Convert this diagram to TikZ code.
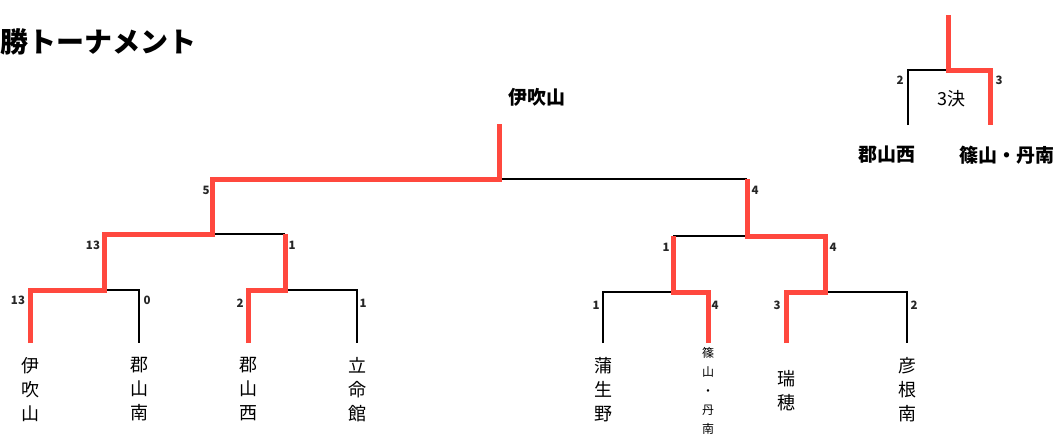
\documentclass[tikz,border=0pt]{standalone}
\usepackage{fontspec}
\newfontfamily\jp{Noto Sans CJK JP}
\usepackage{tikz}
\tikzset{>=latex}
\definecolor{winred}{RGB}{255,72,62}

\begin{document}
\begin{tikzpicture}[x=1pt, y=-1pt,
    win/.style={draw=winred, line width=5pt},
    lose/.style={draw=black, line width=1.4pt},
    score/.style={font=\jp\bfseries\fontsize{11.5}{11.5}\selectfont, text=black!85, inner sep=0pt},
    team/.style={font=\jp\fontsize{18}{24}\selectfont, align=center, inner sep=0pt, anchor=north},
    small team/.style={font=\jp\fontsize{12}{19}\selectfont, align=center, inner sep=0pt, anchor=north},
    head/.style={font=\jp\bfseries\fontsize{19}{19}\selectfont, inner sep=0pt}]
  \useasboundingbox (0,0) rectangle (1056,439);

  % title
  \node[font=\jp\bfseries\fontsize{28}{28}\selectfont, anchor=west, inner sep=0pt] (title) at (0,42) {勝トーナメント};

  % leaves
  \coordinate (b1) at (30,343);  \coordinate (t1) at (30,290);
  \coordinate (b2) at (139,343); \coordinate (t2) at (139,290);
  \coordinate (b3) at (248,343); \coordinate (t3) at (248,290);
  \coordinate (b4) at (357,343); \coordinate (t4) at (357,290);
  \coordinate (b5) at (603,343); \coordinate (t5) at (603,292);
  \coordinate (b6) at (708,343); \coordinate (t6) at (708,292);
  \coordinate (b7) at (786,343); \coordinate (t7) at (786,292);
  \coordinate (b8) at (907,343); \coordinate (t8) at (907,292);
  % joins
  \coordinate (r1) at (104,290); \coordinate (s1) at (104,234);
  \coordinate (r2) at (285,290); \coordinate (s2) at (285,234);
  \coordinate (r3) at (673,292); \coordinate (s3) at (673,236);
  \coordinate (r4) at (825,292); \coordinate (s4) at (825,236);
  \coordinate (m1) at (212,234); \coordinate (f1) at (212,179);
  \coordinate (m2) at (747,236); \coordinate (f2) at (747,179);
  \coordinate (c) at (499,179);  \coordinate (ct) at (499,124);

  % losers
  \draw[lose] (r1) -- (t2) -- (b2);
  \draw[lose] (r2) -- (t4) -- (b4);
  \draw[lose] (s2) -- (m1);
  \draw[lose] (b5) -- (t5) -- (r3);
  \draw[lose] (s3) -- (m2);
  \draw[lose] (r4) -- (t8) -- (b8);
  \draw[lose] (f2) -- (c);
  % winners
  \draw[win] (b1) -- (t1) -- (r1) -- (s1) -- (m1) -- (f1) -- (c) -- (ct);
  \draw[win] (b3) -- (t3) -- (r2) -- (s2);
  \draw[win] (b6) -- (t6) -- (r3) -- (s3);
  \draw[win] (b7) -- (t7) -- (r4) -- (s4) -- (m2) -- (f2);

  % scores
  \node[score] (n1) at (18,300) {13};
  \node[score] (n2) at (147,300) {0};
  \node[score] (n3) at (240,303) {2};
  \node[score] (n4) at (363,303) {1};
  \node[score] (n5) at (93,245) {13};
  \node[score] (n6) at (292,245) {1};
  \node[score] (n7) at (206,190) {5};
  \node[score] (n8) at (755,190) {4};
  \node[score] (n9) at (666,247) {1};
  \node[score] (n10) at (833,247) {4};
  \node[score] (n11) at (596,305) {1};
  \node[score] (n12) at (715,305) {4};
  \node[score] (n13) at (777,305) {3};
  \node[score] (n14) at (914,305) {2};

  % teams
  \node[team] (ibuki) at (30,357) {伊\\吹\\山};
  \node[team] (kminami) at (139,357) {郡\\山\\南};
  \node[team] (knishi) at (248,357) {郡\\山\\西};
  \node[team] (ritsu) at (357,357) {立\\命\\館};
  \node[team] (gamou) at (603,357) {蒲\\生\\野};
  \node[small team] (sasa) at (708,347) {篠\\山\\・\\丹\\南};
  \node[team] (mizuho) at (786,370) {瑞\\穂};
  \node[team] (hikone) at (907,357) {彦\\根\\南};

  % champion
  \node[head] (champ) at (537,97) {伊吹山};

  % third place
  \coordinate (p1) at (908,125); \coordinate (p1t) at (908,70);
  \coordinate (p2) at (990,125); \coordinate (p2t) at (990,70);
  \coordinate (tj) at (948,70);  \coordinate (tt) at (948,15);
  \draw[lose] (p1) -- (p1t) -- (tj);
  \draw[win] (tt) -- (tj) -- (p2t) -- (p2);
  \node[score] (q1) at (900,80) {2};
  \node[score] (q2) at (999,80) {3};
  \node[font=\jp\fontsize{18}{18}\selectfont, inner sep=0pt] (third) at (951,99) {3決};
  \node[head] (tknishi) at (887,155) {郡山西};
  \node[head] (tsasa) at (1007,155) {篠山・丹南};
\end{tikzpicture}
\end{document}
